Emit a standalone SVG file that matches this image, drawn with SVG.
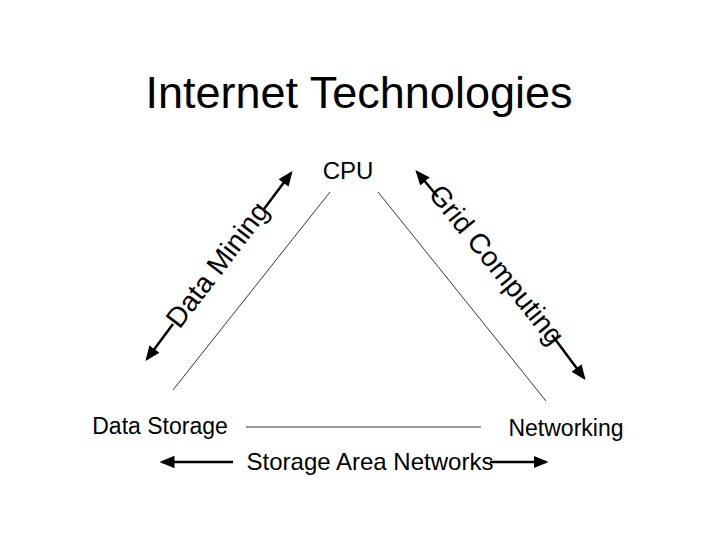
<svg xmlns="http://www.w3.org/2000/svg" width="720" height="540" viewBox="0 0 720 540">
<style>
text{font-family:"Liberation Sans",Arial,sans-serif;fill:#000}
.thin{stroke:#000;stroke-width:0.8;fill:none}
.arr{stroke:#000;stroke-width:2.5;fill:none;marker-end:url(#ah)}
</style>
<defs>
<marker id="ah" markerWidth="6" markerHeight="6" refX="5" refY="3" orient="auto" markerUnits="strokeWidth"><path d="M0,0.5 L6,3 L0,5.5 Z" fill="#000"/></marker>
</defs>
<rect width="720" height="540" fill="#fff"/>
<text x="359" y="108" font-size="45" text-anchor="middle">Internet Technologies</text>
<g id="cpu"><text x="348" y="179" font-size="24" text-anchor="middle">CPU</text></g>
<g id="storage"><text x="160" y="434" font-size="23" text-anchor="middle">Data Storage</text></g>
<g id="networking"><text x="566" y="436" font-size="23" text-anchor="middle">Networking</text></g>
<g id="connectors">
<line class="thin" x1="330" y1="192" x2="173" y2="390"/>
<line class="thin" x1="378" y1="192" x2="546" y2="401"/>
<line class="thin" x1="246" y1="427" x2="481" y2="427"/>
<line class="arr" x1="264" y1="209" x2="291" y2="173"/>
<line class="arr" x1="173" y1="324" x2="147" y2="359"/>
<line class="arr" x1="438" y1="197" x2="417" y2="172"/>
<line class="arr" x1="552" y1="335" x2="584" y2="378"/>
<line class="arr" x1="233" y1="462" x2="162" y2="462"/>
<line class="arr" x1="490" y1="462" x2="546" y2="462"/>
<text x="219" y="266" font-size="28" text-anchor="middle" dominant-baseline="middle" transform="rotate(-52.6 219 266)">Data Mining</text>
<text x="495" y="266" font-size="28" text-anchor="middle" dominant-baseline="middle" transform="rotate(51 495 266)">Grid Computing</text>
<text x="370" y="470" font-size="24" text-anchor="middle">Storage Area Networks</text>
</g>
</svg>
